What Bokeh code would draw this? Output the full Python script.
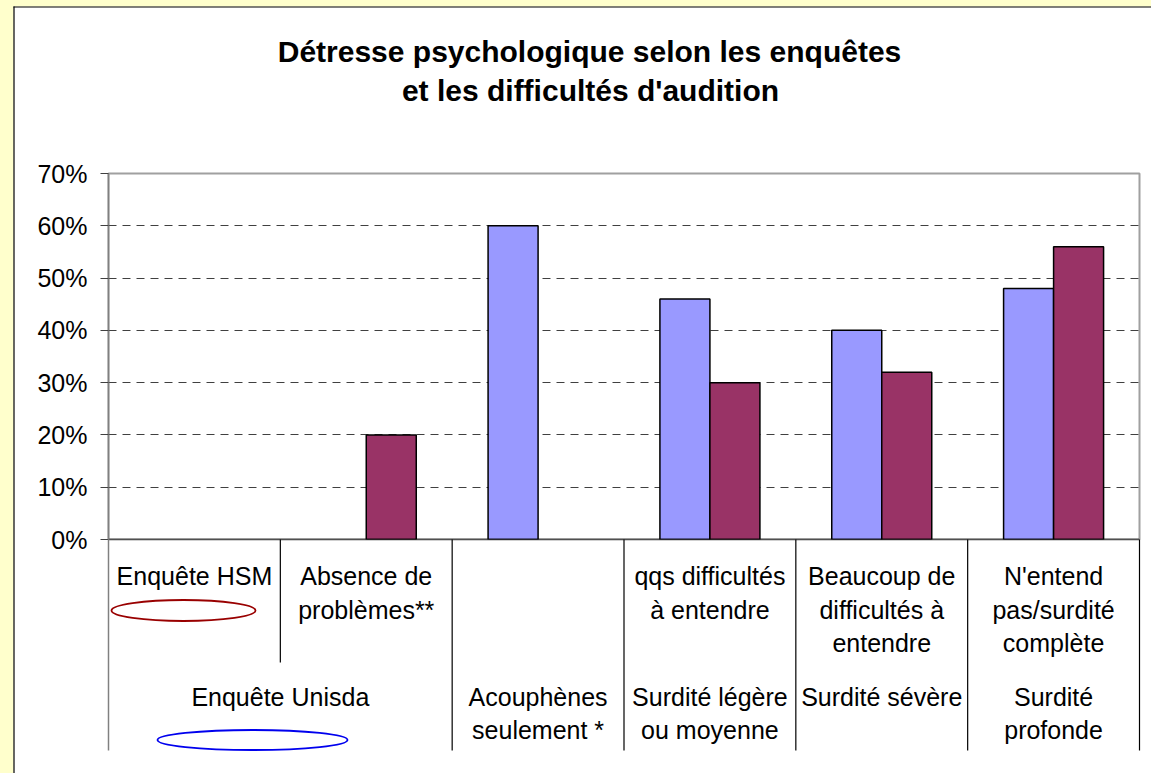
import numpy as np
from bokeh.plotting import figure
from bokeh.models import FixedTicker, NumeralTickFormatter, Range1d
from bokeh.core.properties import value
from bokeh.embed import file_html
from bokeh.resources import INLINE

# ---------------- data ----------------
title_lines = ["Détresse psychologique selon les enquêtes",
               "et les difficultés d'audition"]
categories = ["HSM", "Absence", "Acouphènes", "Légère", "Sévère", "Profonde"]
top_labels = ["Enquête HSM", "Absence de\nproblèmes**", "",
              "qqs difficultés\nà entendre",
              "Beaucoup de\ndifficultés à\nentendre",
              "N'entend\npas/surdité\ncomplète"]
bottom_labels = ["Enquête Unisda", "Acouphènes\nseulement *",
                 "Surdité légère\nou moyenne", "Surdité sévère",
                 "Surdité\nprofonde"]
bottom_spans = [(0, 2), (2, 3), (3, 4), (4, 5), (5, 6)]
unisda = [None, None, 0.60, 0.46, 0.40, 0.48]   # blue series
hsm = [None, 0.20, None, 0.30, 0.32, 0.56]      # plum series
y_ticks = [0.0, 0.1, 0.2, 0.3, 0.4, 0.5, 0.6, 0.7]

# ---------------- layout ----------------
W, H = 1151, 773
ML, MR, MT, MB = 108, 12, 173, 234
FX0, FX1, FY0, FY1 = ML, W - MR, MT, H - MB
N = len(categories)
PX = (FX1 - FX0) / N
PY = (FY1 - FY0) / 0.7
TXT_SHIFT = -9


def X(px):
    return (px - FX0) / PX


def Y(py):
    return (FY1 - py) / PY


FONT = value("Liberation Sans")

p = figure(width=W, height=H, output_backend="svg", toolbar_location=None,
           x_range=Range1d(0, N), y_range=Range1d(0, 0.7),
           min_border_left=ML, min_border_right=MR,
           min_border_top=MT, min_border_bottom=MB,
           x_axis_location=None,
           background_fill_color="white", border_fill_color="white",
           outline_line_color="#A0A0A0", outline_line_width=2)

# y axis
p.yaxis.ticker = FixedTicker(ticks=y_ticks)
p.yaxis.formatter = NumeralTickFormatter(format="0%")
p.yaxis.major_label_text_font = "Liberation Sans"
p.yaxis.major_label_text_font_size = "25px"
p.yaxis.major_label_text_color = "black"
p.yaxis.major_label_standoff = 13
p.yaxis.major_tick_out = 8
p.yaxis.major_tick_in = 0
p.yaxis.minor_tick_line_color = None
p.yaxis.axis_line_color = "#808080"
p.yaxis.axis_line_width = 1.5
p.yaxis.major_tick_line_color = "#404040"
p.yaxis.major_tick_line_width = 1.2

p.xgrid.visible = False
p.ygrid.ticker = FixedTicker(ticks=[t for t in y_ticks if 0 < t < 0.7])
p.ygrid.grid_line_color = "#404040"
p.ygrid.grid_line_dash = "8 6"
p.ygrid.grid_line_width = 1

# bars
bw = 50 / PX
centers = np.arange(N) + 0.5
bx = [c - bw / 2 for c, v in zip(centers, unisda) if v is not None]
bt = [v for v in unisda if v is not None]
hx = [c + bw / 2 for c, v in zip(centers, hsm) if v is not None]
ht = [v for v in hsm if v is not None]
p.vbar(x=bx, top=bt, bottom=0, width=bw, fill_color="#9999FF",
       line_color="black", line_width=1.5)
p.vbar(x=hx, top=ht, bottom=0, width=bw, fill_color="#993366",
       line_color="black", line_width=1.5)

# x axis line at 0
p.segment(x0=[0], y0=[0], x1=[N], y1=[0], line_color="black", line_width=1.5)

# ---------------- category table below ----------------
div_x, div_y0, div_y1 = [], [], []
for k in range(1, N + 1):
    div_x.append(k)
    div_y0.append(0)
    div_y1.append(Y(662) if k == 1 else Y(750))
p.segment(x0=div_x, y0=div_y0, x1=div_x, y1=div_y1, line_color="black",
          line_width=1.2, level="overlay")
p.segment(x0=[0], y0=[0], x1=[0], y1=[Y(750)], line_color="#808080",
          line_width=1.5, level="overlay")

tx, ty, tt = [], [], []
for i, lab in enumerate(top_labels):
    for j, line in enumerate(lab.split("\n")):
        if line:
            tx.append(centers[i])
            ty.append(Y(584.5 + TXT_SHIFT + j * 33.5))
            tt.append(line)
for (a, b), lab in zip(bottom_spans, bottom_labels):
    for j, line in enumerate(lab.split("\n")):
        tx.append((a + b) / 2)
        ty.append(Y(705.5 + TXT_SHIFT + j * 33))
        tt.append(line)
p.text(x=tx, y=ty, text=tt, text_font=FONT, text_font_size="25px",
       text_align="center", text_baseline="alphabetic", text_color="black",
       level="overlay")

# title
p.text(x=[X(589), X(590)], y=[Y(60 + TXT_SHIFT), Y(99 + TXT_SHIFT)],
       text=title_lines, text_font=FONT,
       text_font_size="30px", text_font_style="bold", text_align="center",
       text_baseline="alphabetic", text_color="black", level="overlay")

# hand drawn marks under survey names
p.ellipse(x=[X(183)], y=[Y(610)], width=[144], height=[21],
          width_units="screen", height_units="screen", fill_color=None,
          line_color="#990000", line_width=1.8, level="overlay")
p.ellipse(x=[X(252)], y=[Y(739.5)], width=[190], height=[20],
          width_units="screen", height_units="screen", fill_color=None,
          line_color="#0000EE", line_width=1.8, level="overlay")

# chart area frame: yellow strips + black border
p.quad(left=[X(-20), X(-20)], right=[X(13), X(1200)],
       top=[Y(-20), Y(-20)], bottom=[Y(800), Y(6)],
       fill_color="#FFFFCC", line_color=None, level="overlay")
p.segment(x0=[X(13.5), X(13)], y0=[Y(6), Y(6.5)], x1=[X(13.5), X(1200)],
          y1=[Y(800), Y(6.5)], line_color="black", line_width=1.2,
          level="overlay")

open("out.html", "w").write(file_html(p, INLINE))
